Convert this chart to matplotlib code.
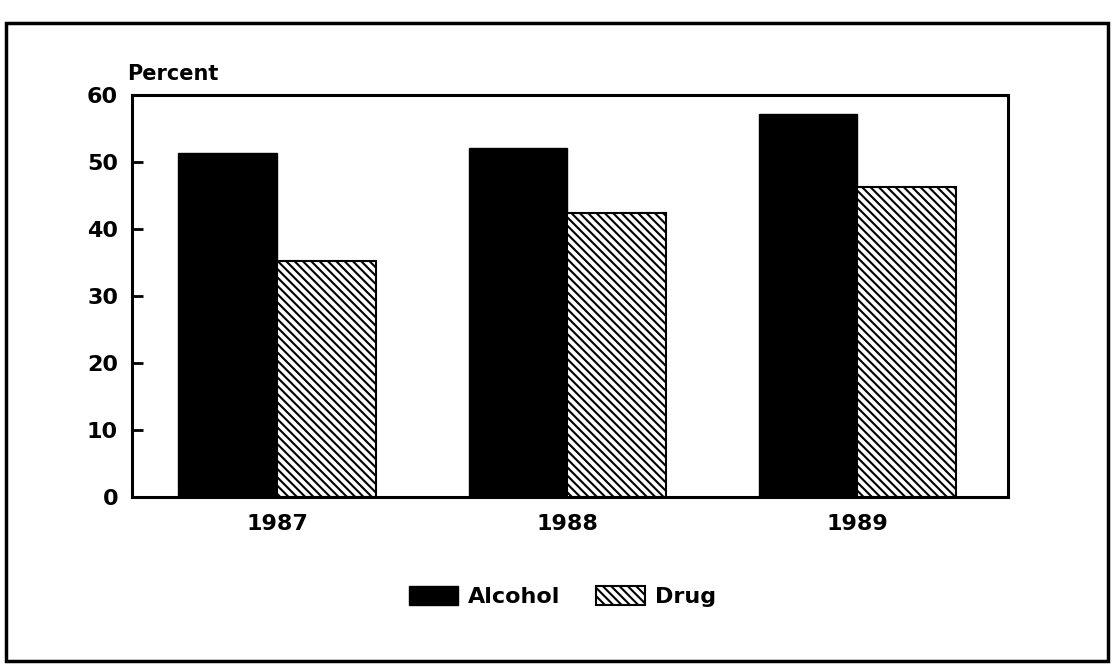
import numpy as np
import matplotlib
matplotlib.use("Agg")
import matplotlib.pyplot as plt
from matplotlib.patches import Rectangle

years = ["1987", "1988", "1989"]
alcohol = [51.3, 52.0, 57.2]
drug = [35.2, 42.4, 46.2]
yticks = [0, 10, 20, 30, 40, 50, 60]

plt.rcParams['font.family'] = ['DejaVu Sans']
plt.rcParams['font.weight'] = 'bold'
plt.rcParams['hatch.linewidth'] = 1.5

fig = plt.figure(figsize=(11.14, 6.68), dpi=100)
ax = fig.add_axes([0.1185, 0.256, 0.7865, 0.602])

x = np.arange(len(years))
w = 0.34
ax.bar(x - w/2, alcohol, w, color='black', edgecolor='black', linewidth=1, label='Alcohol')
ax.bar(x + w/2, drug, w, color='white', edgecolor='black', linewidth=1.5,
       hatch='\\\\\\\\', label='Drug')

ax.set_xlim(-0.5, 2.52)
ax.set_ylim(0, 60)
ax.set_yticks(yticks)
ax.set_xticks(x)
ax.set_xticklabels(years, fontsize=16, fontweight='bold')
ax.tick_params(axis='y', direction='in', length=8, width=2, labelsize=16, pad=10)
ax.tick_params(axis='x', length=0, pad=12)
for lab in ax.get_yticklabels():
    lab.set_fontweight('bold')
for s in ax.spines.values():
    s.set_linewidth(2.2)

fig.text(0.114, 0.875, 'Percent', fontsize=15, fontweight='bold', ha='left', va='bottom')

fig.legend(loc='center', bbox_to_anchor=(0.505, 0.107), ncol=2, frameon=False,
           fontsize=16, handlelength=2.2, handleheight=0.95, handletextpad=0.45,
           columnspacing=1.6)

# outer frame around the whole figure
fig.patches.append(Rectangle((0.005, 0.01), 0.99, 0.955, transform=fig.transFigure,
                             fill=False, edgecolor='black', linewidth=2.5))

fig.savefig('out.png', dpi=100)
